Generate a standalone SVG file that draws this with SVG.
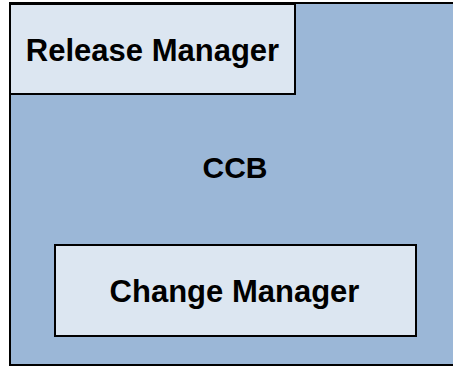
<svg xmlns="http://www.w3.org/2000/svg" width="453" height="369" viewBox="0 0 453 369">
<style>
.outer{fill:#9bb7d7;stroke:#000;stroke-width:2}
.box{fill:#dce6f1;stroke:#000;stroke-width:2}
.t{font-family:"Liberation Sans",Arial,sans-serif;font-weight:bold;font-size:31px;fill:#000;text-anchor:middle}
</style>
<rect width="453" height="369" fill="#ffffff"/>
<g id="ccb">
<rect class="outer" x="10" y="3" width="450" height="362"/>
<text class="t" x="235" y="178" style="font-size:30px">CCB</text>
</g>
<g id="release-manager">
<rect class="box" x="10" y="4" width="285" height="90"/>
<text class="t" x="152.5" y="61">Release Manager</text>
</g>
<g id="change-manager">
<rect class="box" x="55" y="245" width="361" height="91"/>
<text class="t" x="234.5" y="302">Change Manager</text>
</g>
<g id="connectors"></g>
</svg>
